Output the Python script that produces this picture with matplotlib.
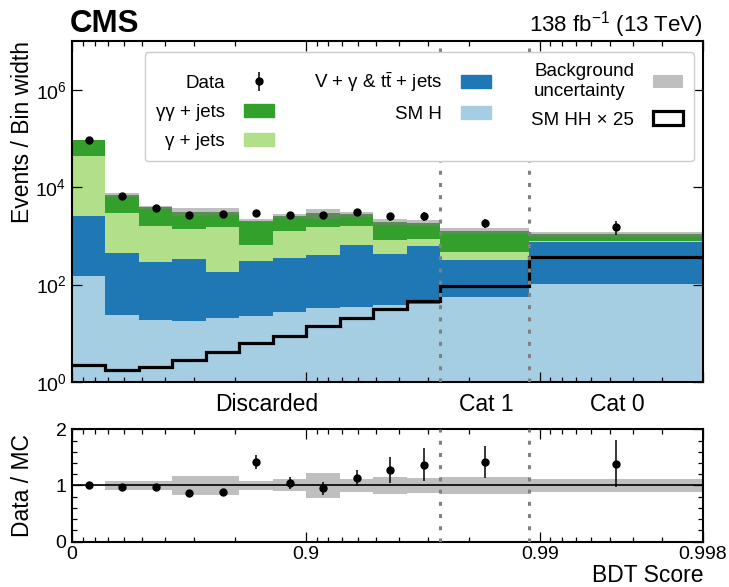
import numpy as np
import matplotlib
matplotlib.use("Agg")
import matplotlib.pyplot as plt
from matplotlib.patches import Patch
from matplotlib.ticker import FixedLocator, NullLocator, MultipleLocator

plt.rcParams['font.family'] = ['Liberation Sans', 'DejaVu Sans']
plt.rcParams['mathtext.fontset'] = 'custom'
plt.rcParams['mathtext.rm'] = 'Liberation Sans'
plt.rcParams['mathtext.it'] = 'Liberation Sans:italic'
plt.rcParams['mathtext.bf'] = 'Liberation Sans:bold'

# BDT score bin edges: 11 discarded bins, then Cat 1 and Cat 0
edges = np.array([0.0, 0.2808, 0.4828, 0.6280, 0.7325, 0.8077, 0.8617, 0.9005,
                  0.9285, 0.9486, 0.9630, 0.9734, 0.9889, 0.998])
cat_bounds = [0.9734, 0.9889]
categories = ['Discarded', 'Cat 1', 'Cat 0']

# events / bin width for each process
sm_h = np.array([153, 23.9, 19.2, 18.3, 20.5, 23.2, 27.6, 33.8, 35.5, 38.4, 40.2, 56.9, 103])
v_gamma_tt = np.array([2406, 429, 277, 318, 164, 287, 330, 366, 616, 387, 581, 264, 659])
gamma_jets = np.array([41500, 2539, 1326, 1069, 1360, 350, 921, 1145, 944, 398, 242, 147, 5])
gg_jets = np.array([48200, 3895, 2224, 1756, 1617, 1390, 1280, 1352, 1171, 1135, 974, 811, 327])
hh_x25 = np.array([2.26, 1.79, 2.03, 2.86, 4.05, 6.29, 8.89, 13.8, 20.5, 31.8, 47.1, 94, 364])
data = np.array([92260, 6640, 3730, 2713, 2783, 2912, 2679, 2743, 3127, 2508, 2513, 1810, 1516])
data_err = np.array([370, 83, 69, 79, 95, 246, 274, 336, 387, 451, 533, 371, 459])
bkg_rel_unc = np.array([0.015, 0.087, 0.087, 0.175, 0.165, 0.075, 0.107, 0.22, 0.11,
                        0.15, 0.135, 0.15, 0.12])

c_smh, c_vg, c_gj, c_gg = '#a6cee3', '#1f78b4', '#b2df8a', '#33a02c'


def fwd(x):
    return -np.log10(np.clip(1 - np.asarray(x, float), 1e-9, None))


def inv(t):
    return 1 - 10.0 ** (-np.asarray(t, float))


fig = plt.figure(figsize=(7.29, 5.87), dpi=100)
ax = fig.add_axes([0.0988, 0.3492, 0.8656, 0.5809])
rax = fig.add_axes([0.0988, 0.0772, 0.8656, 0.1915], sharex=ax)
ax.set_xscale('function', functions=(fwd, inv))
rax.set_xscale('function', functions=(fwd, inv))

centers = inv(0.5 * (fwd(edges[:-1]) + fwd(edges[1:])))

# stacked backgrounds
bottom = np.full(len(sm_h), 1e-3)
for vals, col in [(sm_h, c_smh), (v_gamma_tt, c_vg), (gamma_jets, c_gj), (gg_jets, c_gg)]:
    top = bottom + vals
    ax.stairs(top, edges, baseline=bottom, fill=True, color=col, lw=0, zorder=1)
    bottom = top
total = bottom

ax.stairs(total * (1 + bkg_rel_unc), edges, baseline=total * (1 - bkg_rel_unc),
          fill=True, color='gray', alpha=0.5, lw=0, zorder=2)
ax.stairs(hh_x25, edges, baseline=None, color='black', lw=2.3, zorder=3)

for a in (ax, rax):
    for b in cat_bounds:
        a.axvline(b, color='gray', lw=2.2, ls=(0, (1.3, 2.7)), zorder=4)

data_h = ax.errorbar(centers, data, yerr=data_err, fmt='o', color='black', ms=5,
                     elinewidth=1.1, capsize=0, zorder=5)

# ratio panel
ratio = data / total
ratio_err = data_err / total
rax.stairs(1 + bkg_rel_unc, edges, baseline=1 - bkg_rel_unc, fill=True,
           color='gray', alpha=0.5, lw=0, zorder=1)
rax.axhline(1, color='black', lw=1.2, zorder=2)
rax.errorbar(centers, ratio, yerr=ratio_err, fmt='o', color='black', ms=5,
             elinewidth=1.1, capsize=0, zorder=5)

# axes
ax.set_yscale('log')
ax.set_ylim(1, 1e7)
ax.yaxis.set_major_locator(FixedLocator([1, 1e2, 1e4, 1e6]))
ax.yaxis.set_minor_locator(NullLocator())

rax.set_xlim(0, 0.998)
rax.set_xticks([0, 0.9, 0.99, 0.998], labels=['0', '0.9', '0.99', '0.998'])
rax.set_xticks([0.1, 0.2, 0.3, 0.4, 0.5, 0.6, 0.7, 0.8,
                0.91, 0.92, 0.93, 0.94, 0.95, 0.96, 0.97, 0.98,
                0.991, 0.992, 0.993, 0.994, 0.995, 0.996, 0.997], minor=True)
rax.set_ylim(0, 2)
rax.set_yticks([0, 1, 2])
rax.yaxis.set_minor_locator(MultipleLocator(0.2))

for a in (ax, rax):
    a.tick_params(which='both', direction='in', top=True, right=True, labelsize=14)
    a.tick_params(which='major', length=7, width=0.9)
    a.tick_params(which='minor', length=3.8, width=0.9)
    a.tick_params(axis='y', pad=4)
    a.tick_params(axis='x', pad=3)
    for s in a.spines.values():
        s.set_linewidth(1.5)
ax.tick_params(labelbottom=False)

ax.set_ylabel('Events / Bin width', fontsize=16.5, loc='top')
ax.yaxis.set_label_coords(-0.06, 1.0)
rax.set_ylabel('Data / MC', fontsize=16.5)
rax.yaxis.set_label_coords(-0.06, 0.5)
rax.set_xlabel('BDT Score', fontsize=16.5, loc='right', labelpad=1)

for xf, txt in zip([0.309, 0.656, 0.864], categories):
    ax.text(xf, -0.067, txt, transform=ax.transAxes, ha='center', va='center', fontsize=16.5)

fig.text(70 / 729, 1 - 32 / 587, 'CMS', fontsize=22.5, fontweight='bold', ha='left', va='baseline')
fig.text(703 / 729, 1 - 32 / 587, r'138 fb$^{-1}$ (13 TeV)', fontsize=16,
         ha='right', va='baseline')

handles = [data_h, Patch(color=c_gg), Patch(color=c_gj), Patch(color=c_vg), Patch(color=c_smh),
           Patch(facecolor='gray', alpha=0.5, lw=0),
           Patch(facecolor='white', edgecolor='black', lw=2.3)]
labels = ['Data', 'γγ + jets', 'γ + jets', r'V + γ & $\mathrm{t\bar{t}}$ + jets', 'SM H',
          'Background\nuncertainty', 'SM HH × 25']
leg = ax.legend(handles, labels, ncol=3, loc='upper right', bbox_to_anchor=(0.986, 0.968),
                borderaxespad=0, markerfirst=False, fontsize=13.5, handlelength=1.6,
                handleheight=0.75, handletextpad=1.0, columnspacing=2.15, labelspacing=0.62,
                frameon=True, fancybox=True, edgecolor='#cccccc', framealpha=1, borderpad=0.6)
for t in leg.get_texts():
    t.set_multialignment('left')
leg.set_zorder(10)

fig.savefig('out.png', dpi=100)
